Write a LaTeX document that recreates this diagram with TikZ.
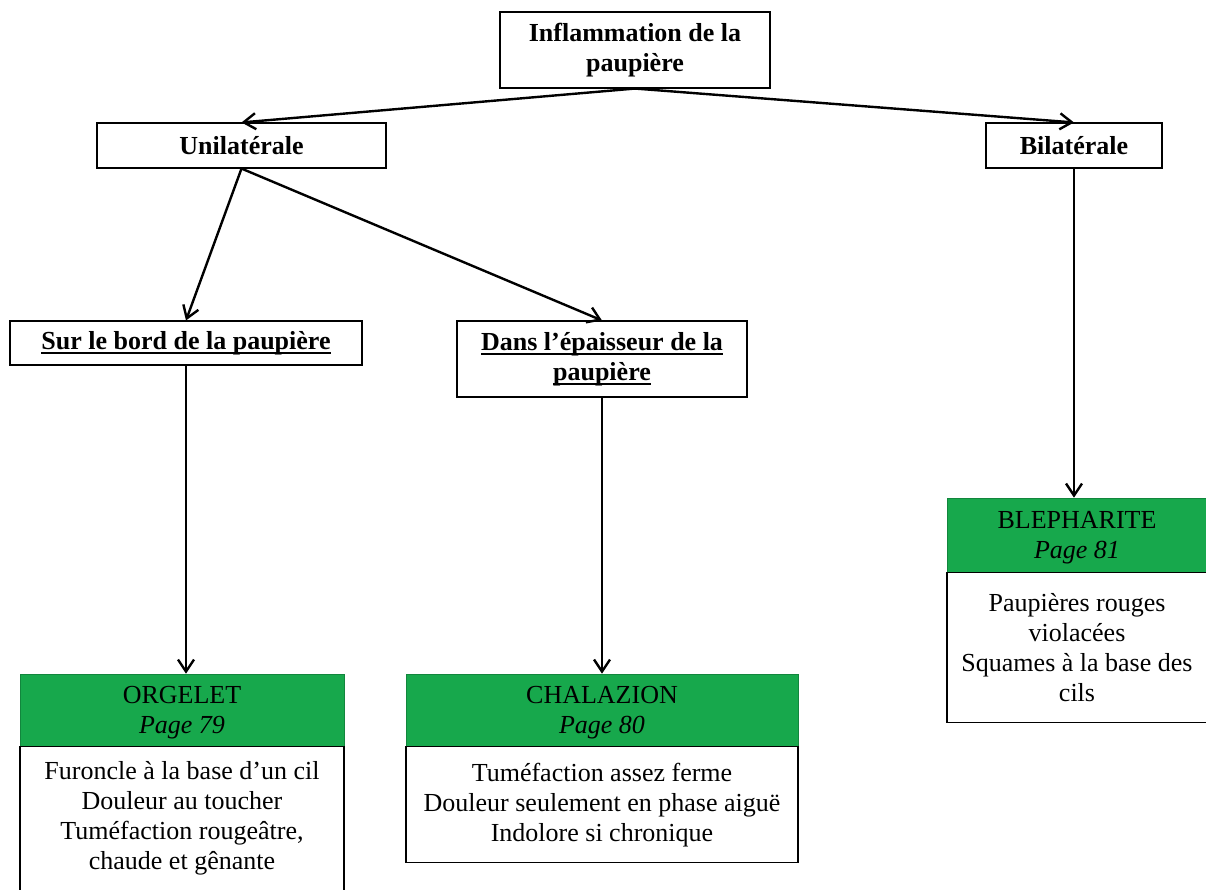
\documentclass[tikz,border=0pt]{standalone}
\usepackage{fontspec}
\setmainfont{Liberation Serif}
\usetikzlibrary{arrows.meta}
\definecolor{headgreen}{RGB}{23,168,76}
\newcommand{\undl}[1]{\setbox0=\hbox{#1}\makebox[0pt][l]{\rule[-4.5pt]{\wd0}{2.2pt}}\box0}

\begin{document}
\begin{tikzpicture}[x=1pt, y=-1pt,
    box/.style={draw, line width=1.1pt, align=center, inner sep=0pt, font=\fontsize{26}{30}\selectfont\bfseries},
    head/.style={fill=headgreen, draw=headgreen!80!black, line width=0.6pt, align=center, inner sep=0pt, text depth=0pt, font=\fontsize{26}{30}\selectfont},
    body/.style={draw, line width=1.1pt, align=center, inner sep=0pt, font=\fontsize{26}{30}\selectfont},
    link/.style={line width=2.4pt, -{Straight Barb[length=12pt, width=16pt]}}]
                        \useasboundingbox (0,0) rectangle (1206,889);

                        \node[box, minimum width=270, minimum height=76] (infl) at (635,50) {Inflammation de la\\paupière};
                        \node[box, minimum width=289, minimum height=45] (uni) at (241.5,145.5) {Unilatérale};
                        \node[box, minimum width=176, minimum height=45] (bil) at (1074,145.5) {Bilatérale};
                        \node[box, minimum width=352, minimum height=44] (bord) at (186,343) {\undl{Sur le bord de la paupière}};
                        \node[box, minimum width=290, minimum height=76] (epais) at (602,359) {\undl{Dans l’épaisseur de la}\\\undl{paupière}};

                        \node[head, minimum width=324, minimum height=72] (orghead) at (182,710) {ORGELET\\\textit{Page 79}};
                        \node[body, anchor=north, minimum width=324, inner ysep=15] (orgbody) at (orghead.south) {Furoncle à la base d’un cil\\Douleur au toucher\\Tuméfaction rougeâtre,\\chaude et gênante};

                        \node[head, minimum width=392, minimum height=72] (chalhead) at (602,710) {CHALAZION\\\textit{Page 80}};
                        \node[body, anchor=north, minimum width=392, minimum height=116] (chalbody) at (chalhead.south) {Tuméfaction assez ferme\\Douleur seulement en phase aiguë\\Indolore si chronique};

                        \node[head, minimum width=260, minimum height=74] (blephead) at (1077,535) {BLEPHARITE\\\textit{Page 81}};
                        \node[body, anchor=north, minimum width=260, minimum height=150] (blepbody) at (blephead.south) {Paupières rouges\\violacées\\Squames à la base des\\cils};

                        \draw [link] (infl.south) -- (uni.north);
                        \draw [link] (infl.south) -- (bil.north);
                        \draw [link] (uni.south) -- (bord.north);
                        \draw [link] (uni.south) -- (epais.north);
                        \draw [link] (bord.south) -- (bord.south |- orghead.north);
                        \draw [link] (epais.south) -- (epais.south |- chalhead.north);
                        \draw [link] (bil.south) -- (bil.south |- blephead.north);
                    \end{tikzpicture}
\end{document}
